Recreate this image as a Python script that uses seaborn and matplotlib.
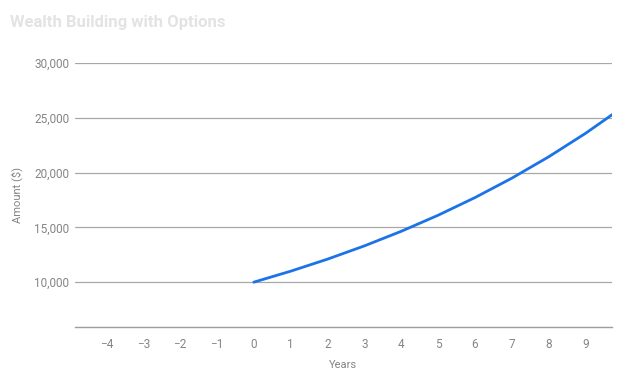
import pandas as pd
import matplotlib.pyplot as plt
import seaborn as sns
from matplotlib.ticker import FuncFormatter

# values (roughly 10% a year growth)
years = [0, 1, 2, 3, 4, 5, 6, 7, 8, 9, 10]
amounts = [10000, 11000, 12100, 13310, 14641, 16105, 17716, 19487, 21436, 23579, 25937]
xtick_vals = [-4, -3, -2, -1, 0, 1, 2, 3, 4, 5, 6, 7, 8, 9]
ytick_vals = [10000, 15000, 20000, 25000, 30000]

df = pd.DataFrame({'Years': years, 'Amount': amounts})

sns.set_theme(style='white')
plt.rcParams['font.family'] = ['Roboto', 'DejaVu Sans']

fig = plt.figure(figsize=(6.28, 3.8), dpi=100)
ax = fig.add_axes([0.119, 0.139, 0.856, 0.695])

sns.lineplot(data=df, x='Years', y='Amount', ax=ax, color='#1a73e8', linewidth=2)

ax.set_xlim(-4.86, 9.73)
ax.set_ylim(5890, 30000)
ax.set_xticks(xtick_vals)
ax.set_xticklabels(['\u2212{}'.format(-v) if v < 0 else str(v) for v in xtick_vals])
ax.set_yticks(ytick_vals)
ax.yaxis.set_major_formatter(FuncFormatter(lambda v, p: '{:,.0f}'.format(v)))
ax.grid(axis='y', color='#a8a8a8', linewidth=0.9)
ax.set_axisbelow(True)
for s in ['top', 'right', 'left']:
    ax.spines[s].set_visible(False)
ax.spines['bottom'].set_color('#9e9e9e')
ax.spines['bottom'].set_linewidth(1)
ax.tick_params(axis='both', length=0, labelsize=8.5, colors='#858585')
ax.tick_params(axis='x', pad=8)
ax.tick_params(axis='y', pad=4)

ax.set_xlabel('Years', fontsize=8, color='#858585', labelpad=6)
ax.set_ylabel('Amount ($)', fontsize=8, color='#858585', labelpad=8)

fig.text(0.016, 0.94, 'Wealth Building with Options', fontsize=12, fontweight='bold',
         color='#e3e3e3', ha='left', va='center')

plt.savefig('out.png', dpi=100)
